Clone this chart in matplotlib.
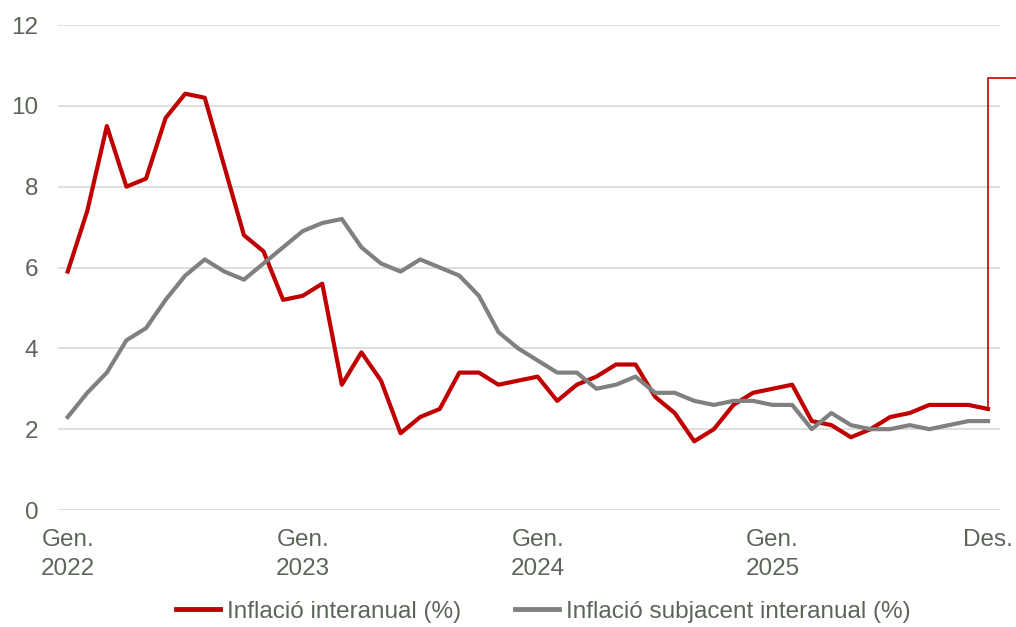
import numpy as np
import matplotlib.pyplot as plt

plt.rcParams['font.family'] = ['Liberation Sans', 'DejaVu Sans']

# Dades mensuals, gener 2022 - desembre 2025
inflacio = [5.9, 7.4, 9.5, 8.0, 8.2, 9.7, 10.3, 10.2, 8.5, 6.8, 6.4, 5.2,
            5.3, 5.6, 3.1, 3.9, 3.2, 1.9, 2.3, 2.5, 3.4, 3.4, 3.1, 3.2,
            3.3, 2.7, 3.1, 3.3, 3.6, 3.6, 2.8, 2.4, 1.7, 2.0, 2.6, 2.9,
            3.0, 3.1, 2.2, 2.1, 1.8, 2.0, 2.3, 2.4, 2.6, 2.6, 2.6, 2.5]
subjacent = [2.3, 2.9, 3.4, 4.2, 4.5, 5.2, 5.8, 6.2, 5.9, 5.7, 6.1, 6.5,
             6.9, 7.1, 7.2, 6.5, 6.1, 5.9, 6.2, 6.0, 5.8, 5.3, 4.4, 4.0,
             3.7, 3.4, 3.4, 3.0, 3.1, 3.3, 2.9, 2.9, 2.7, 2.6, 2.7, 2.7,
             2.6, 2.6, 2.0, 2.4, 2.1, 2.0, 2.0, 2.1, 2.0, 2.1, 2.2, 2.2]
tick_pos = [0, 12, 24, 36, 47]
tick_labels = ['Gen.\n2022', 'Gen.\n2023', 'Gen.\n2024', 'Gen.\n2025', 'Des.']

vermell = '#c00000'
gris = '#808080'
text_col = '#5b6659'

x = np.arange(len(inflacio))

fig = plt.figure(figsize=(10.16, 6.27), dpi=100)
ax = fig.add_axes([0.057, 0.1866, 0.927, 0.7735])

ax.plot(x, inflacio, color=vermell, lw=3, label='Inflació interanual (%)')
ax.plot(x, subjacent, color=gris, lw=3, label='Inflació subjacent interanual (%)')

# connector de l'anotació a la dreta
ax.plot([47, 47, 48.5], [inflacio[-1], 10.7, 10.7], color=vermell, lw=1.2, clip_on=False)

ax.set_xlim(-0.5, 47.6)
ax.set_ylim(0, 12)
ax.set_yticks(range(0, 13, 2))
ax.set_xticks(tick_pos)
ax.set_xticklabels(tick_labels, linespacing=1.4)
ax.grid(axis='y', color='#d9d9d9', lw=1.2)
ax.set_axisbelow(True)
for s in ax.spines.values():
    s.set_visible(False)
ax.tick_params(length=0, labelsize=17.5, labelcolor=text_col)
ax.tick_params(axis='y', pad=14)
ax.tick_params(axis='x', pad=14)

leg = fig.legend(loc='center', bbox_to_anchor=(0.535, 0.024), ncol=2, frameon=False,
                 fontsize=17.5, handlelength=1.8, handletextpad=0.3, columnspacing=2.2)
for t in leg.get_texts():
    t.set_color(text_col)
for h in leg.get_lines():
    h.set_linewidth(3.5)

fig.savefig('out.png', dpi=100)
